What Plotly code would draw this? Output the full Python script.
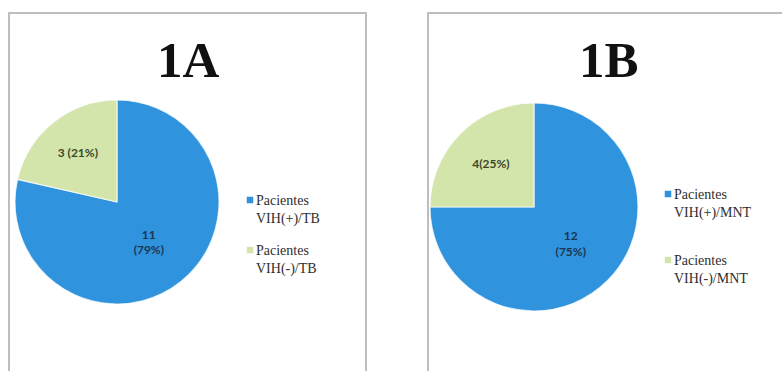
import plotly.graph_objects as go

# Patient counts by HIV status, two cohorts
labels_a = ["Pacientes VIH(+)/TB", "Pacientes VIH(-)/TB"]
counts_a = [11, 3]
labels_b = ["Pacientes VIH(+)/MNT", "Pacientes VIH(-)/MNT"]
counts_b = [12, 4]
titles = ["1A", "1B"]

slice_colors = ["#2F93DE", "#D4E5AC"]
text_colors = ["#1E3550", "#3B4726"]

W, H = 782, 371


def px_x(v):
    return v / W


def px_y(v):
    # pixel offset from top -> paper y
    return 1 - v / H


fig = go.Figure()

# value label layout per slice: first slice breaks count and percent over two lines
tmpl_a = ["<b>%{value}<br>(%{percent:.0%})</b>", "<b>%{value} (%{percent:.0%})</b>"]
tmpl_b = ["<b>%{value}<br>(%{percent:.0%})</b>", "<b>%{value}(%{percent:.0%})</b>"]

fig.add_trace(go.Pie(
    labels=labels_a, values=counts_a, sort=False, direction="clockwise", rotation=0,
    marker=dict(colors=slice_colors, line=dict(color="rgba(255,255,255,0.7)", width=1.2)),
    texttemplate=tmpl_a, textposition="inside", insidetextorientation="horizontal",
    textfont=dict(family="Lato", size=12, color=text_colors),
    domain=dict(x=[px_x(14), px_x(220)], y=[px_y(304), px_y(100)]),
    showlegend=False, hoverinfo="label+value+percent",
))
fig.add_trace(go.Pie(
    labels=labels_b, values=counts_b, sort=False, direction="clockwise", rotation=0,
    marker=dict(colors=slice_colors, line=dict(color="rgba(255,255,255,0.7)", width=1.2)),
    texttemplate=tmpl_b, textposition="inside", insidetextorientation="horizontal",
    textfont=dict(family="Lato", size=12, color=text_colors),
    domain=dict(x=[px_x(430), px_x(638)], y=[px_y(311), px_y(103)]),
    showlegend=False, hoverinfo="label+value+percent",
))

shapes = []
annotations = []

# panel frames
for x0, x1 in [(9, 366), (428, 800)]:
    shapes.append(dict(type="rect", xref="paper", yref="paper",
                       x0=px_x(x0), x1=px_x(x1), y0=px_y(390), y1=px_y(13),
                       line=dict(color="#BEBEBE", width=2), fillcolor="rgba(0,0,0,0)"))

# panel titles
for title, cx in zip(titles, [188, 609]):
    annotations.append(dict(text=f"<b>{title}</b>", x=px_x(cx), y=px_y(60),
                            xref="paper", yref="paper", showarrow=False,
                            xanchor="center", yanchor="middle",
                            font=dict(family="Liberation Serif", size=51, color="#111111")))

# legends: colour key square + two-line label
legend_specs = [
    (labels_a, 247, [200, 250]),
    (labels_b, 665, [194, 260]),
]
for labs, lx, tops in legend_specs:
    for lab, col, ty in zip(labs, slice_colors, tops):
        shapes.append(dict(type="rect", xref="paper", yref="paper",
                           x0=px_x(lx), x1=px_x(lx + 6), y0=px_y(ty + 3), y1=px_y(ty - 3),
                           line=dict(color=col, width=0.5), fillcolor=col))
        first, second = lab.split(" ", 1)
        annotations.append(dict(text=f"{first}<br>{second}", x=px_x(lx + 7), y=px_y(ty - 9),
                                xref="paper", yref="paper", showarrow=False,
                                xanchor="left", yanchor="top", align="left",
                                font=dict(family="Liberation Serif", size=14, color="#2E2E2E")))

fig.update_layout(
    width=W, height=H,
    margin=dict(l=0, r=0, t=0, b=0),
    paper_bgcolor="white", plot_bgcolor="white",
    shapes=shapes, annotations=annotations,
)

fig.write_html("out.html")
